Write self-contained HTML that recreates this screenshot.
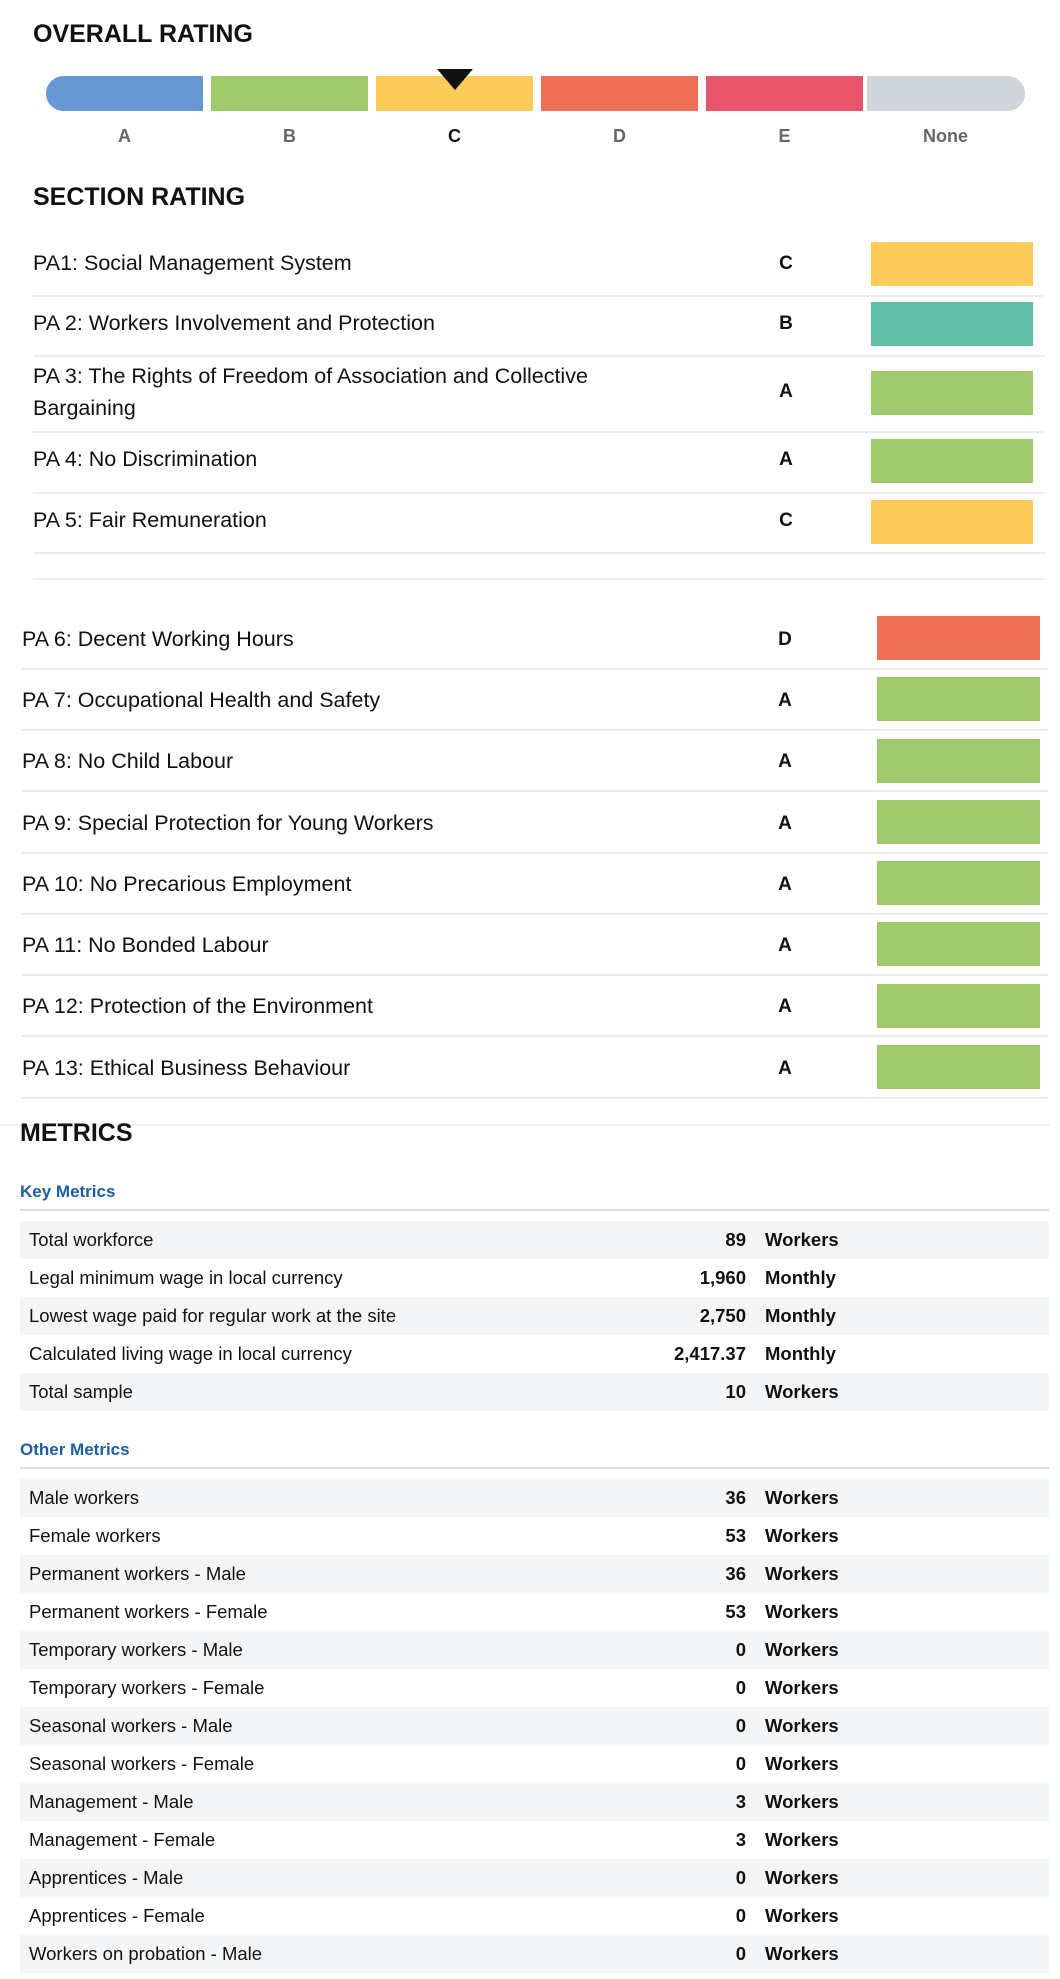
<!DOCTYPE html>
<html><head><meta charset="utf-8"><style>
body{margin:0;width:1060px;height:1979px;background:#fff;position:relative;font-family:"Liberation Sans",Arial,sans-serif;color:#111;overflow:hidden}
.a{position:absolute}
h1{position:absolute;margin:0;font-size:25px;font-weight:bold;line-height:1}
.seg{position:absolute;top:76px;height:35px;width:157px}
.lbl{position:absolute;top:126px;width:157px;text-align:center;font-size:18px;font-weight:bold;color:#666}
.row{position:absolute;font-size:21.5px;line-height:32px}
.gr{position:absolute;font-size:19px;font-weight:bold;width:30px;text-align:center}
.sw{position:absolute;height:44px}
.ln{position:absolute;height:2px;background:#ececec}
.m{position:absolute;left:20px;width:1029px;height:38px;font-size:18.5px;line-height:38px}
.m.o{background:#f4f5f7}
.m span{position:absolute}
.m .l{left:9px}
.m .n{right:303px;font-weight:bold}
.m .u{left:745px;font-weight:bold}
.sub{position:absolute;left:20px;font-size:17px;font-weight:bold;color:#1c5ea8}
</style></head><body>
<h1 style="left:33px;top:22px">OVERALL RATING</h1>
<div class="seg" style="left:46px;background:#6699d3;border-radius:18px 0 0 18px"></div>
<div class="seg" style="left:211px;background:#9fc96a"></div>
<div class="seg" style="left:376px;background:#fdcb5a"></div>
<div class="seg" style="left:541px;background:#ee6f56"></div>
<div class="seg" style="left:706px;background:#e8546a"></div>
<div class="seg" style="left:867px;background:#d0d4db;border-radius:0 18px 18px 0;width:158px"></div>
<div class="a" style="left:437px;top:69px;width:0;height:0;border-left:18px solid transparent;border-right:18px solid transparent;border-top:21px solid #111"></div>
<div class="lbl" style="left:46px">A</div>
<div class="lbl" style="left:211px">B</div>
<div class="lbl" style="left:376px;color:#111">C</div>
<div class="lbl" style="left:541px">D</div>
<div class="lbl" style="left:706px">E</div>
<div class="lbl" style="left:867px">None</div>

<h1 style="left:33px;top:185px">SECTION RATING</h1>

<div class="row" style="left:33px;top:247px">PA1: Social Management System</div>
<div class="gr" style="left:771px;top:253px">C</div><div class="sw" style="left:871px;top:242px;width:162px;background:#fdcb5a"></div>
<div class="ln" style="left:33px;width:1012px;top:295px"></div>
<div class="row" style="left:33px;top:307px">PA 2: Workers Involvement and Protection</div>
<div class="gr" style="left:771px;top:313px">B</div><div class="sw" style="left:871px;top:302px;width:162px;background:#5fbfa6"></div>
<div class="ln" style="left:33px;width:1012px;top:355px"></div>
<div class="row" style="left:33px;top:360px">PA 3: The Rights of Freedom of Association and Collective<br>Bargaining</div>
<div class="gr" style="left:771px;top:381px">A</div><div class="sw" style="left:871px;top:371px;width:162px;background:#9fc96a"></div>
<div class="ln" style="left:33px;width:1012px;top:431px"></div>
<div class="row" style="left:33px;top:443px">PA 4: No Discrimination</div>
<div class="gr" style="left:771px;top:449px">A</div><div class="sw" style="left:871px;top:439px;width:162px;background:#9fc96a"></div>
<div class="ln" style="left:33px;width:1012px;top:492px"></div>
<div class="row" style="left:33px;top:504px">PA 5: Fair Remuneration</div>
<div class="gr" style="left:771px;top:510px">C</div><div class="sw" style="left:871px;top:500px;width:162px;background:#fdcb5a"></div>
<div class="ln" style="left:33px;width:1012px;top:552px"></div>
<div class="ln" style="left:33px;width:1012px;top:578px"></div>

<div class="row" style="left:22px;top:623px">PA 6: Decent Working Hours</div>
<div class="gr" style="left:770px;top:629px">D</div><div class="sw" style="left:877px;top:616px;width:163px;background:#ee6f56"></div>
<div class="ln" style="left:22px;width:1026px;top:668px"></div>
<div class="row" style="left:22px;top:684px">PA 7: Occupational Health and Safety</div>
<div class="gr" style="left:770px;top:690px">A</div><div class="sw" style="left:877px;top:677px;width:163px;background:#9fc96a"></div>
<div class="ln" style="left:22px;width:1026px;top:729px"></div>
<div class="row" style="left:22px;top:745px">PA 8: No Child Labour</div>
<div class="gr" style="left:770px;top:751px">A</div><div class="sw" style="left:877px;top:739px;width:163px;background:#9fc96a"></div>
<div class="ln" style="left:22px;width:1026px;top:790px"></div>
<div class="row" style="left:22px;top:807px">PA 9: Special Protection for Young Workers</div>
<div class="gr" style="left:770px;top:813px">A</div><div class="sw" style="left:877px;top:800px;width:163px;background:#9fc96a"></div>
<div class="ln" style="left:22px;width:1026px;top:852px"></div>
<div class="row" style="left:22px;top:868px">PA 10: No Precarious Employment</div>
<div class="gr" style="left:770px;top:874px">A</div><div class="sw" style="left:877px;top:861px;width:163px;background:#9fc96a"></div>
<div class="ln" style="left:22px;width:1026px;top:913px"></div>
<div class="row" style="left:22px;top:929px">PA 11: No Bonded Labour</div>
<div class="gr" style="left:770px;top:935px">A</div><div class="sw" style="left:877px;top:922px;width:163px;background:#9fc96a"></div>
<div class="ln" style="left:22px;width:1026px;top:974px"></div>
<div class="row" style="left:22px;top:990px">PA 12: Protection of the Environment</div>
<div class="gr" style="left:770px;top:996px">A</div><div class="sw" style="left:877px;top:984px;width:163px;background:#9fc96a"></div>
<div class="ln" style="left:22px;width:1026px;top:1035px"></div>
<div class="row" style="left:22px;top:1052px">PA 13: Ethical Business Behaviour</div>
<div class="gr" style="left:770px;top:1058px">A</div><div class="sw" style="left:877px;top:1045px;width:163px;background:#9fc96a"></div>
<div class="ln" style="left:22px;width:1026px;top:1097px"></div>
<div class="ln" style="left:0;width:1050px;top:1124px;background:#f0f0f0"></div>

<h1 style="left:20px;top:1121px">METRICS</h1>
<div class="sub" style="top:1182px">Key Metrics</div>
<div class="ln" style="left:20px;width:1029px;top:1209px;background:#ddd"></div>
<div class="m o" style="top:1221px"><span class="l">Total workforce</span><span class="n">89</span><span class="u">Workers</span></div>
<div class="m" style="top:1259px"><span class="l">Legal minimum wage in local currency</span><span class="n">1,960</span><span class="u">Monthly</span></div>
<div class="m o" style="top:1297px"><span class="l">Lowest wage paid for regular work at the site</span><span class="n">2,750</span><span class="u">Monthly</span></div>
<div class="m" style="top:1335px"><span class="l">Calculated living wage in local currency</span><span class="n">2,417.37</span><span class="u">Monthly</span></div>
<div class="m o" style="top:1373px"><span class="l">Total sample</span><span class="n">10</span><span class="u">Workers</span></div>

<div class="sub" style="top:1440px">Other Metrics</div>
<div class="ln" style="left:20px;width:1029px;top:1467px;background:#ddd"></div>
<div class="m o" style="top:1479px"><span class="l">Male workers</span><span class="n">36</span><span class="u">Workers</span></div>
<div class="m" style="top:1517px"><span class="l">Female workers</span><span class="n">53</span><span class="u">Workers</span></div>
<div class="m o" style="top:1555px"><span class="l">Permanent workers - Male</span><span class="n">36</span><span class="u">Workers</span></div>
<div class="m" style="top:1593px"><span class="l">Permanent workers - Female</span><span class="n">53</span><span class="u">Workers</span></div>
<div class="m o" style="top:1631px"><span class="l">Temporary workers - Male</span><span class="n">0</span><span class="u">Workers</span></div>
<div class="m" style="top:1669px"><span class="l">Temporary workers - Female</span><span class="n">0</span><span class="u">Workers</span></div>
<div class="m o" style="top:1707px"><span class="l">Seasonal workers - Male</span><span class="n">0</span><span class="u">Workers</span></div>
<div class="m" style="top:1745px"><span class="l">Seasonal workers - Female</span><span class="n">0</span><span class="u">Workers</span></div>
<div class="m o" style="top:1783px"><span class="l">Management - Male</span><span class="n">3</span><span class="u">Workers</span></div>
<div class="m" style="top:1821px"><span class="l">Management - Female</span><span class="n">3</span><span class="u">Workers</span></div>
<div class="m o" style="top:1859px"><span class="l">Apprentices - Male</span><span class="n">0</span><span class="u">Workers</span></div>
<div class="m" style="top:1897px"><span class="l">Apprentices - Female</span><span class="n">0</span><span class="u">Workers</span></div>
<div class="m o" style="top:1935px"><span class="l">Workers on probation - Male</span><span class="n">0</span><span class="u">Workers</span></div>
</body></html>
